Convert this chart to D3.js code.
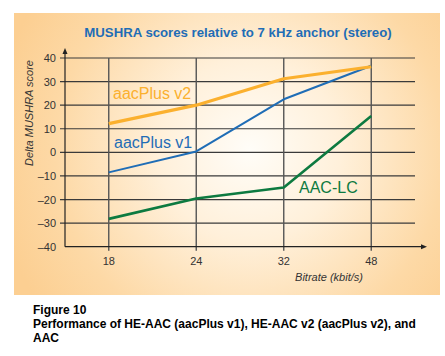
<!DOCTYPE html>
<html><head><meta charset="utf-8">
<script src="https://cdn.jsdelivr.net/npm/d3@7"></script>
<style>body{margin:0;background:#fff}svg{display:block}text{font-family:"Liberation Sans",Arial,sans-serif}</style>
</head><body><svg id="c" width="445" height="356"></svg>
<script>
const categories = ["18","24","32","48"];
const yTicks = [-40,-30,-20,-10,0,10,20,30,40];
const aacPlusV2 = [12.2, 20.0, 31.2, 36.3];
const aacPlusV1 = [-8.5, 0.4, 22.5, 36.7];
const aacLC = [-28.2, -19.6, -14.9, 15.4];
const seriesNames = ["aacPlus v2","aacPlus v1","AAC-LC"];
const seriesColors = ["#fbb02e","#1f6db6","#0d7a40"];
const title = "MUSHRA scores relative to 7 kHz anchor (stereo)";
const yLabel = "Delta MUSHRA score";
const xLabel = "Bitrate (kbit/s)";
const caption = ["Figure 10","Performance of HE-AAC (aacPlus v1), HE-AAC v2 (aacPlus v2), and","AAC"];

const svg = d3.select("#c");
const defs = svg.append("defs");
const rg = defs.append("radialGradient").attr("id","bg").attr("gradientUnits","userSpaceOnUse")
  .attr("cx",250).attr("cy",150).attr("r",260);
rg.append("stop").attr("offset",0).attr("stop-color","#fffdf8");
rg.append("stop").attr("offset",0.35).attr("stop-color","#fff0da");
rg.append("stop").attr("offset",0.75).attr("stop-color","#fdd9a6");
rg.append("stop").attr("offset",1).attr("stop-color","#fccf92");
svg.append("rect").attr("x",14).attr("y",13).attr("width",426).attr("height",282).attr("fill","url(#bg)");

const x = d3.scalePoint().domain(categories).range([65,415]).padding(0.5);
const y = d3.scaleLinear().domain([-40,40]).range([246.7,58]);

const g = svg.append("g");
// horizontal gridlines
g.selectAll(".hg").data(yTicks.filter(d=>d>-40)).join("line")
  .attr("x1",60).attr("x2",415).attr("y1",d=>y(d)).attr("y2",d=>y(d))
  .attr("stroke","#3a3a3a").attr("stroke-width",1.2);
// vertical gridlines
g.selectAll(".vg").data(categories).join("line")
  .attr("x1",d=>x(d)).attr("x2",d=>x(d)).attr("y1",y(40)).attr("y2",y(-40)+4)
  .attr("stroke","#555").attr("stroke-width",1.4);
// axes
g.append("line").attr("x1",65).attr("x2",423).attr("y1",y(-40)).attr("y2",y(-40)).attr("stroke","#222").attr("stroke-width",1.2);
g.append("path").attr("d",`M427,${y(-40)}l-6,-2.5v5z`).attr("fill","#222");
g.append("line").attr("x1",65).attr("x2",65).attr("y1",y(-40)).attr("y2",52).attr("stroke","#222").attr("stroke-width",1.2);
g.append("path").attr("d",`M65,48l-2.5,6h5z`).attr("fill","#222");

// tick labels
g.selectAll(".yt").data(yTicks).join("text")
  .attr("x",56).attr("y",d=>y(d)+4).attr("text-anchor","end")
  .attr("font-size",11).attr("fill","#333").text(d=>d<0?"\u2013"+Math.abs(d):d);
g.selectAll(".xt").data(categories).join("text")
  .attr("x",d=>x(d)).attr("y",265).attr("text-anchor","middle")
  .attr("font-size",11).attr("fill","#333").text(d=>d);

// axis labels
svg.append("text").attr("transform","translate(33,113) rotate(-90)").attr("text-anchor","middle")
  .attr("font-size",11).attr("font-style","italic").attr("fill","#333").text(yLabel);
svg.append("text").attr("x",329).attr("y",281).attr("text-anchor","middle")
  .attr("font-size",11).attr("font-style","italic").attr("fill","#333").text(xLabel);

// title
svg.append("text").attr("x",238).attr("y",37).attr("text-anchor","middle")
  .attr("font-size",13.2).attr("font-weight","bold").attr("fill","#1f6db6").text(title);

// lines
const line = d3.line().x((d,i)=>x(categories[i])).y(d=>y(d));
const allSeries = [aacPlusV2, aacPlusV1, aacLC];
const widths = [3.2, 2, 2.6];
[2,1,0].forEach(i=>{
  svg.append("path").datum(allSeries[i]).attr("d",line).attr("fill","none")
    .attr("stroke",seriesColors[i]).attr("stroke-width",widths[i]).attr("stroke-linejoin","round");
});

// series labels
const labelPos = [[113,99],[114,148],[299,193]];
seriesNames.forEach((n,i)=>{
  svg.append("text").attr("x",labelPos[i][0]).attr("y",labelPos[i][1])
    .attr("font-size",16).attr("fill",seriesColors[i]).text(n);
});

// caption
caption.forEach((t,i)=>{
  svg.append("text").attr("x",33).attr("y",314+i*14).attr("font-size",12)
    .attr("font-weight","bold").attr("fill","#000").text(t);
});
</script></body></html>
